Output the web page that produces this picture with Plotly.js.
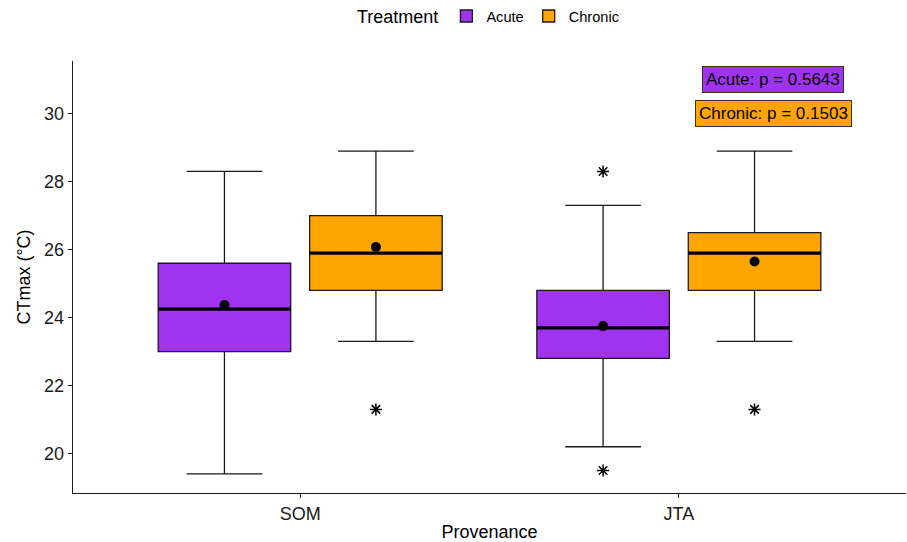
<!DOCTYPE html>
<html><head><meta charset="utf-8">
<script src="https://cdn.plot.ly/plotly-3.0.1.min.js"></script>
<style>body{margin:0;background:#fff;}#chart{width:907px;height:542px;}</style>
</head><body><div id="chart"></div>
<script>
// ---- data ----
const provenance = ['SOM', 'JTA'];
const treatments = ['Acute', 'Chronic'];
const acuteQ1 = [23.0, 22.8];
const acuteMedian = [24.25, 23.7];
const acuteQ3 = [25.6, 24.8];
const acuteLower = [19.4, 20.2];
const acuteUpper = [28.3, 27.3];
const acuteMean = [24.37, 23.75];
const acuteOutliers = [[], [28.3, 19.5]];
const chronicQ1 = [24.8, 24.8];
const chronicMedian = [25.9, 25.9];
const chronicQ3 = [27.0, 26.5];
const chronicLower = [23.3, 23.3];
const chronicUpper = [28.9, 28.9];
const chronicMean = [26.08, 25.65];
const chronicOutliers = [[21.3], [21.3]];
const pLabels = ['Acute: p = 0.5643', 'Chronic: p = 0.1503'];
const pLabelY = [31, 30];
const yTicks = [20, 22, 24, 26, 28, 30];

// ---- styling ----
const FONT = '"Liberation Sans", Arial, Helvetica, sans-serif';
const colors = {Acute: '#A033F0', Chronic: '#FFA500'};
const offsets = {Acute: -0.2, Chronic: 0.2};
const BW = 0.35;
const groupPos = provenance.map((p, i) => i + 1);

const series = {
  Acute: {q1: acuteQ1, med: acuteMedian, q3: acuteQ3, lo: acuteLower, hi: acuteUpper, mean: acuteMean, out: acuteOutliers},
  Chronic: {q1: chronicQ1, med: chronicMedian, q3: chronicQ3, lo: chronicLower, hi: chronicUpper, mean: chronicMean, out: chronicOutliers}
};

const traces = [];
treatments.forEach(t => {
  const s = series[t];
  const xs = groupPos.map(g => g + offsets[t]);
  traces.push({
    type: 'box', name: t, x: xs,
    q1: s.q1, median: s.med, q3: s.q3, lowerfence: s.lo, upperfence: s.hi,
    boxpoints: false, width: BW, whiskerwidth: 0.2 / BW,
    fillcolor: colors[t], line: {color: '#1a1a1a', width: 1.3},
    hoverinfo: 'skip'
  });
});
treatments.forEach(t => {
  const s = series[t];
  const xs = groupPos.map(g => g + offsets[t]);
  // thick median lines
  const mx = [], my = [];
  xs.forEach((x, i) => { mx.push(x - BW / 2, x + BW / 2, null); my.push(s.med[i], s.med[i], null); });
  traces.push({type: 'scatter', mode: 'lines', x: mx, y: my, line: {color: '#000', width: 3.2}, showlegend: false, hoverinfo: 'skip'});
  // means
  traces.push({type: 'scatter', mode: 'markers', x: xs, y: s.mean, marker: {color: '#000', size: 10}, showlegend: false, hoverinfo: 'skip'});
  // outliers
  const ox = [], oy = [];
  xs.forEach((x, i) => s.out[i].forEach(v => { ox.push(x); oy.push(v); }));
  traces.push({type: 'scatter', mode: 'markers', x: ox, y: oy,
    marker: {symbol: 'asterisk-open', size: 10, color: '#000', line: {color: '#000', width: 1.5}},
    showlegend: false, hoverinfo: 'skip'});
});

const layout = {
  width: 907, height: 542,
  margin: {l: 73, r: 1, t: 60, b: 49},
  paper_bgcolor: '#fff', plot_bgcolor: '#fff',
  font: {family: FONT, color: '#000'},
  boxmode: 'overlay',
  showlegend: true,
  legend: {orientation: 'h', x: 0.5, xanchor: 'center', y: 1.1, yanchor: 'middle',
    title: {text: 'Treatment', side: 'left', font: {size: 18, color: '#000'}},
    font: {size: 14.6, color: '#000'}, itemwidth: 30, traceorder: 'normal'},
  xaxis: {range: [0.4, 2.6], tickvals: groupPos, ticktext: provenance,
    showline: true, linecolor: '#1a1a1a', linewidth: 1.3, ticks: 'outside', ticklen: 4,
    tickcolor: '#1a1a1a', tickwidth: 1.3, showgrid: false, zeroline: false,
    tickfont: {size: 18, color: '#1a1a1a'},
    title: {text: 'Provenance', font: {size: 18, color: '#000'}, standoff: 4}},
  yaxis: {range: [18.84, 31.55], tickvals: yTicks,
    showline: true, linecolor: '#1a1a1a', linewidth: 1.3, ticks: 'outside', ticklen: 4,
    tickcolor: '#1a1a1a', tickwidth: 1.3, showgrid: false, zeroline: false,
    tickfont: {size: 18, color: '#1a1a1a'},
    title: {text: 'CTmax (°C)', font: {size: 18, color: '#000'}, standoff: 8}},
  annotations: treatments.map((t, i) => ({
    xref: 'x', yref: 'y', x: 2.25, y: pLabelY[i], text: pLabels[i], showarrow: false,
    bgcolor: colors[t], bordercolor: '#333', borderwidth: 1, borderpad: 3,
    font: {size: 17, color: '#000', family: FONT}
  }))
};

Plotly.newPlot('chart', traces, layout, {displayModeBar: false, staticPlot: true});
</script>
</body></html>
